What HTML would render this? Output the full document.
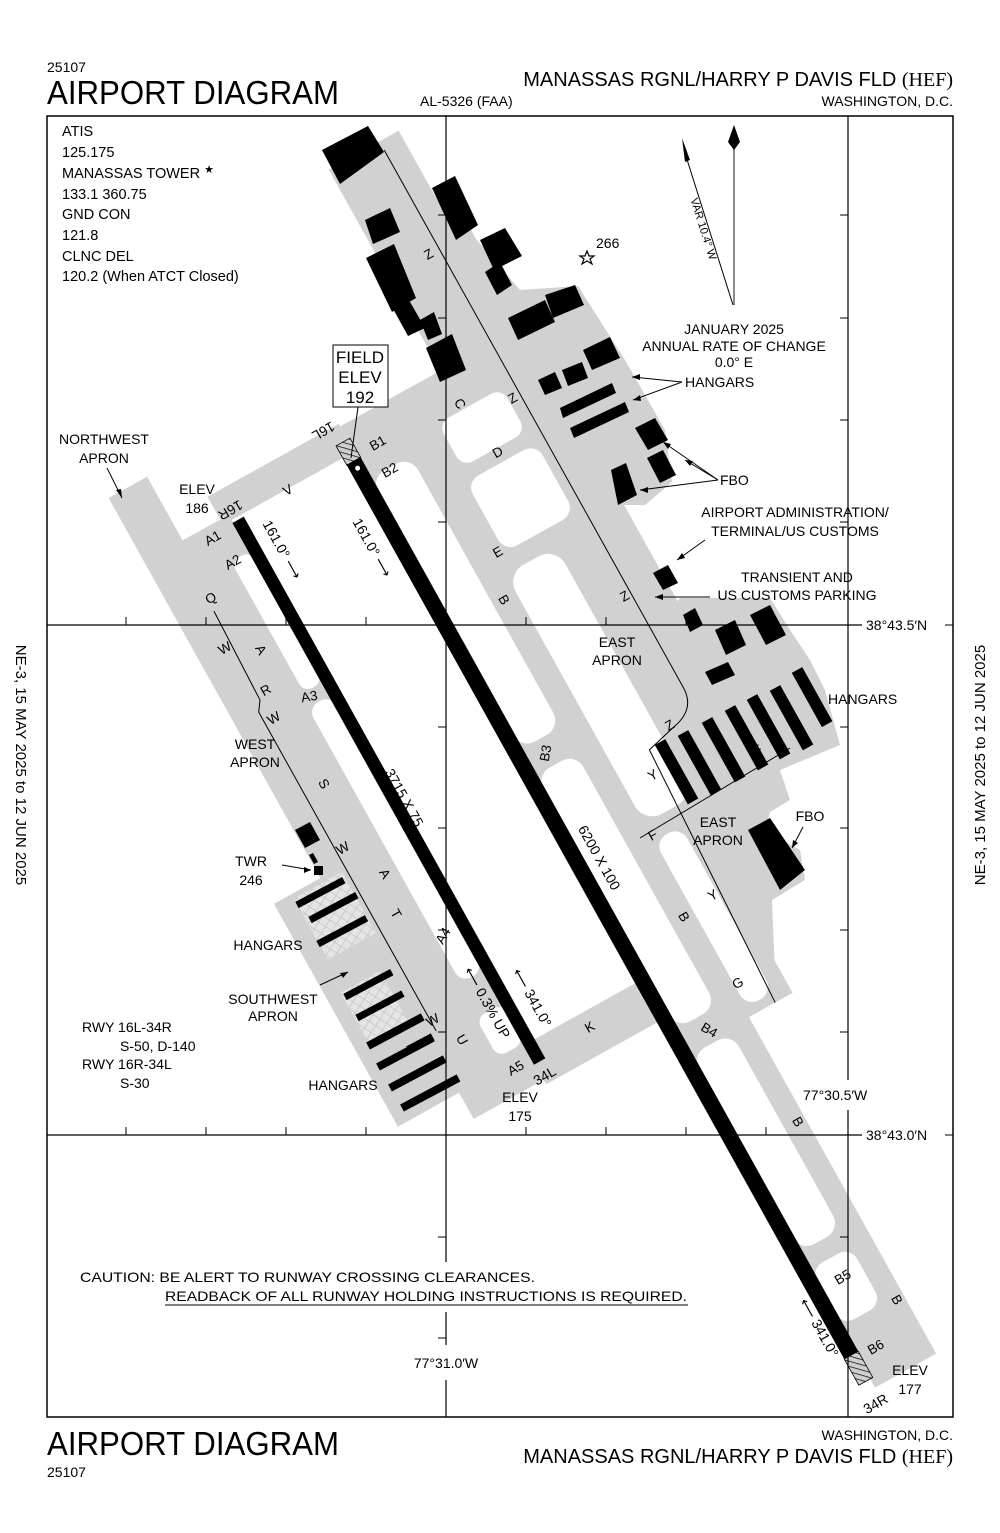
<!DOCTYPE html>
<html><head><meta charset="utf-8"><style>
html,body{margin:0;padding:0;background:#fff;}
svg{display:block;}
text{font-family:"Liberation Sans",sans-serif;fill:#000;}
</style></head><body>
<svg width="1000" height="1533" viewBox="0 0 1000 1533" xmlns="http://www.w3.org/2000/svg">
<defs>
<pattern id="h" width="5" height="5" patternUnits="userSpaceOnUse" patternTransform="rotate(45)">
<rect width="5" height="5" fill="#cfcfcf"/><line x1="0" y1="0" x2="0" y2="5" stroke="#000" stroke-width="1.4"/></pattern>
<pattern id="g" width="8" height="8" patternUnits="userSpaceOnUse" patternTransform="rotate(-28)">
<rect width="8" height="8" fill="#e4e4e4"/><path d="M0 0H8M0 0V8" stroke="#c4c4c4" stroke-width="1.5" fill="none"/></pattern>
</defs>

<text x="47" y="72" font-size="14">25107</text>
<text x="47" y="104" font-size="33" textLength="292" lengthAdjust="spacingAndGlyphs">AIRPORT DIAGRAM</text>
<text x="953" y="86" font-size="20" text-anchor="end"><tspan>MANASSAS RGNL/HARRY P DAVIS FLD </tspan><tspan font-family="Liberation Serif,serif">(HEF)</tspan></text>
<text x="420" y="106" font-size="14">AL-5326 (FAA)</text>
<text x="953" y="106" font-size="14" text-anchor="end">WASHINGTON, D.C.</text>

<text x="953" y="1440" font-size="14" text-anchor="end">WASHINGTON, D.C.</text>
<text x="953" y="1463" font-size="20" text-anchor="end"><tspan>MANASSAS RGNL/HARRY P DAVIS FLD </tspan><tspan font-family="Liberation Serif,serif">(HEF)</tspan></text>
<text x="47" y="1455" font-size="33" textLength="292" lengthAdjust="spacingAndGlyphs">AIRPORT DIAGRAM</text>
<text x="47" y="1477" font-size="14">25107</text>

<text transform="translate(16,765) rotate(90)" font-size="15" text-anchor="middle">NE-3,  15 MAY 2025  to  12 JUN 2025</text>
<text transform="translate(985,765) rotate(-90)" font-size="15" text-anchor="middle">NE-3,  15 MAY 2025  to  12 JUN 2025</text>

<g fill="#d1d1d1">
<polygon points="470,232 520,290 578,286 625,360 665,430 672,482 645,505 600,505 560,420 470,245"/>
<polygon points="680,598 770,598 790,630 810,660 825,690 840,745 780,770 790,800 770,812 765,830 800,850 805,880 772,900 775,975 745,985 700,900 650,830 640,760 630,740 640,650"/>
</g>
<g transform="translate(343,442) rotate(60.9)">
<g fill="#d1d1d1">
<rect x="-245" y="-200" width="725" height="80"/>
<rect x="-150" y="-215" width="630" height="20"/>
<rect x="-15" y="-125" width="715" height="120"/>
<rect x="690" y="-75" width="395" height="70"/>
<rect x="-18" y="-5" width="32" height="150"/>
<rect x="-65" y="188" width="630" height="44"/>
<rect x="8" y="135" width="557" height="55"/>
<rect x="560" y="130" width="95" height="85"/>
<rect x="615" y="-5" width="45" height="140"/>
<rect x="370" y="205" width="255" height="80"/>
</g>
<g fill="#fff">
<rect x="30" y="-165" width="50" height="73" rx="12"/>
<rect x="95" y="-168" width="80" height="80" rx="14"/>
<rect x="195" y="-135" width="285" height="57" rx="20"/>
<rect x="500" y="-108" width="190" height="30" rx="14"/>
<rect x="45" y="-52" width="310" height="46" rx="16"/>
<rect x="385" y="-52" width="290" height="46" rx="16"/>
<rect x="705" y="-52" width="225" height="46" rx="16"/>
<rect x="950" y="-52" width="65" height="46" rx="14"/>
<rect x="50" y="134" width="150" height="22" rx="10"/>
<rect x="215" y="134" width="315" height="26" rx="12"/>
<rect x="568" y="134" width="45" height="30" rx="10"/>
</g>
<rect x="375" y="210" width="70" height="55" fill="url(#g)"/>
<rect x="480" y="225" width="60" height="45" fill="url(#g)"/>
<path d="M-235,-178 L380,-178 Q405,-178 410,-150 L418,-118 L700,-105" fill="none" stroke="#000" stroke-width="1"/>
<path d="M85,195 L185,198 L195,205 L560,205" fill="none" stroke="#000" stroke-width="1"/>
<rect x="0" y="-8" width="22" height="16" fill="url(#h)" stroke="#000" stroke-width="0.8"/>
<rect x="22" y="-8" width="1023" height="16" fill="#000"/>
<rect x="1045" y="-8" width="30" height="16" fill="url(#h)" stroke="#000" stroke-width="0.8"/>
<circle cx="30" cy="0" r="2.5" fill="#fff"/>
<rect x="17" y="123" width="620" height="13" fill="#000"/>
</g>
<path d="M640,838 L790,748" stroke="#000" stroke-width="1" fill="none"/>

<g fill="#000">
<polygon points="322,150 368,126 384,152 340,184"/>
<polygon points="432,188 455,176 478,225 456,240"/>
<polygon points="365,220 390,208 400,232 373,244"/>
<polygon points="366,258 394,244 416,298 392,312"/>
<polygon points="386,296 402,288 425,328 408,336"/>
<polygon points="420,320 434,312 442,334 428,340"/>
<polygon points="426,348 452,334 466,370 440,382"/>
<polygon points="480,240 505,228 522,256 494,270"/>
<polygon points="485,272 500,262 512,285 497,295"/>
<polygon points="508,318 545,300 555,322 518,340"/>
<polygon points="545,295 575,285 584,305 553,318"/>
<polygon points="538,380 555,372 562,388 545,395"/>
<polygon points="562,370 582,362 588,378 568,386"/>
<polygon points="583,350 610,337 620,358 592,370"/>
<polygon points="560,408 612,383 616,393 563,418"/>
<polygon points="570,428 625,402 629,412 574,438"/>
<polygon points="635,428 655,418 668,440 648,450"/>
<polygon points="647,458 663,450 676,475 660,483"/>
<polygon points="611,470 626,463 637,495 618,505"/>
<polygon points="653,573 668,565 678,583 663,590"/>
<polygon points="683,615 695,608 703,625 690,632"/>
<polygon points="715,630 735,620 746,645 726,655"/>
<polygon points="750,615 770,605 786,635 766,645"/>
<polygon points="705,672 728,662 735,675 712,685"/>
<polygon points="748,830 770,818 805,870 780,890"/>
<polygon points="295,830 310,822 320,840 305,848"/>
<rect x="314" y="866" width="9" height="9"/>
<polygon points="309,855 313,853 318,862 314,864"/>
</g>
<g fill="#000">
<rect x="0" y="-6" width="68" height="12" transform="translate(660,742) rotate(60.9)"/>
<rect x="0" y="-6" width="68" height="12" transform="translate(683,733) rotate(60.9)"/>
<rect x="0" y="-6" width="68" height="12" transform="translate(707,720) rotate(60.9)"/>
<rect x="0" y="-6" width="68" height="12" transform="translate(730,708) rotate(60.9)"/>
<rect x="0" y="-6" width="68" height="12" transform="translate(752,697) rotate(60.9)"/>
<rect x="0" y="-6" width="68" height="12" transform="translate(775,688) rotate(60.9)"/>
<rect x="0" y="-6" width="62" height="12" transform="translate(797,670) rotate(60.9)"/>
<rect x="0" y="-3.5" width="53" height="7" transform="translate(297,905) rotate(-28)"/>
<rect x="0" y="-3.5" width="53" height="7" transform="translate(310,920) rotate(-28)"/>
<rect x="0" y="-3.5" width="55" height="7" transform="translate(318,944) rotate(-28)"/>
<rect x="0" y="-3.5" width="53" height="7" transform="translate(345,997) rotate(-28)"/>
<rect x="0" y="-3.5" width="52" height="7" transform="translate(357,1018) rotate(-28)"/>
<rect x="0" y="-4" width="62" height="8" transform="translate(368,1046) rotate(-28)"/>
<rect x="0" y="-4" width="28" height="8" transform="translate(408,1050) rotate(-28)"/>
<rect x="0" y="-4" width="62" height="8" transform="translate(378,1067) rotate(-28)"/>
<rect x="0" y="-4" width="62" height="8" transform="translate(390,1088) rotate(-28)"/>
<rect x="0" y="-4" width="64" height="8" transform="translate(402,1108) rotate(-28)"/>
</g>

<g stroke="#000" fill="none">
<rect x="47" y="116" width="906" height="1301" stroke-width="1.5"/>
<path d="M446,116V1262M446,1312V1345M446,1380V1417" stroke-width="1.2"/>
<path d="M848,116V1080M848,1110V1417" stroke-width="1.2"/>
<path d="M47,625H862M47,1135H862" stroke-width="1.2"/>
<path d="M126,625v-8M206,625v-8M286,625v-8M366,625v-8M526,625v-8M606,625v-8M686,625v-8M766,625v-8
M126,1135v-8M206,1135v-8M286,1135v-8M366,1135v-8M526,1135v-8M606,1135v-8M686,1135v-8M766,1135v-8
M446,215h-8M446,318h-8M446,420h-8M446,522h-8M446,727h-8M446,828h-8M446,930h-8M446,1032h-8M446,1237h-8M446,1338h-8
M848,215h-8M848,318h-8M848,420h-8M848,522h-8M848,727h-8M848,828h-8M848,930h-8M848,1032h-8M848,1237h-8M848,1338h-8" stroke-width="1"/>
</g>
<path d="M953,625h-8M953,1135h-8" stroke="#000"/>

<line x1="734" y1="305" x2="734" y2="140" stroke="#666" stroke-width="1.5"/>
<polygon points="734,125 740,142 734,150 728,142" fill="#000"/>
<line x1="733" y1="305" x2="684" y2="150" stroke="#000" stroke-width="1"/>
<polygon points="682,138 690,160 685,162" fill="#000"/>
<text transform="translate(700,230) rotate(72.5)" font-size="11" text-anchor="middle">VAR 10.4° W</text>

<polygon points="587,251 589,256 594,256 590,259 592,264 587,261 582,264 584,259 580,256 585,256" fill="#fff" stroke="#000" stroke-width="1.2"/>
<text x="596" y="248" font-size="14">266</text>

<g font-size="14.5">
<text x="62" y="136">ATIS</text>
<text x="62" y="157">125.175</text>
<text x="62" y="178">MANASSAS TOWER <tspan font-size="11" dy="-5">★</tspan></text>
<text x="62" y="199">133.1  360.75</text>
<text x="62" y="219">GND CON</text>
<text x="62" y="240">121.8</text>
<text x="62" y="261">CLNC DEL</text>
<text x="62" y="281">120.2 (When ATCT Closed)</text>
</g>

<rect x="333" y="345" width="55" height="62" fill="#fff" stroke="#000" stroke-width="1"/>
<g font-size="17" text-anchor="middle">
<text x="360" y="363">FIELD</text><text x="360" y="383">ELEV</text><text x="360" y="403">192</text>
</g>
<line x1="358" y1="407" x2="351" y2="458" stroke="#000" stroke-width="1"/>

<g font-size="14" text-anchor="middle">
<text x="104" y="444">NORTHWEST</text><text x="104" y="463">APRON</text>
<text x="197" y="494">ELEV</text><text x="197" y="513">186</text>
<text x="255" y="749">WEST</text><text x="255" y="767">APRON</text>
<text x="251" y="866">TWR</text><text x="251" y="885">246</text>
<text x="268" y="950">HANGARS</text>
<text x="273" y="1004">SOUTHWEST</text><text x="273" y="1021">APRON</text>
<text x="343" y="1090">HANGARS</text>
<text x="520" y="1102">ELEV</text><text x="520" y="1121">175</text>
<text x="617" y="647">EAST</text><text x="617" y="665">APRON</text>
<text x="718" y="827">EAST</text><text x="718" y="845">APRON</text>
<text x="810" y="821">FBO</text>
<text x="910" y="1375">ELEV</text><text x="910" y="1394">177</text>
<text x="734" y="334">JANUARY 2025</text>
<text x="734" y="351">ANNUAL RATE OF CHANGE</text>
<text x="734" y="367">0.0° E</text>
<text x="795" y="517">AIRPORT ADMINISTRATION/</text>
<text x="795" y="536">TERMINAL/US CUSTOMS</text>
<text x="797" y="582">TRANSIENT AND</text>
<text x="797" y="600">US CUSTOMS PARKING</text>
<text x="446" y="1368">77°31.0′W</text>
</g>
<g font-size="14">
<text x="685" y="387">HANGARS</text>
<text x="720" y="485">FBO</text>
<text x="828" y="704">HANGARS</text>
<text x="803" y="1100">77°30.5′W</text>
<text x="866" y="630">38°43.5′N</text>
<text x="866" y="1140">38°43.0′N</text>
<text x="82" y="1032">RWY 16L-34R</text>
<text x="120" y="1051">S-50, D-140</text>
<text x="82" y="1069">RWY 16R-34L</text>
<text x="120" y="1088">S-30</text>
<text x="80" y="1282" textLength="455" lengthAdjust="spacingAndGlyphs">CAUTION: BE ALERT TO RUNWAY CROSSING CLEARANCES.</text>
<text x="165" y="1301" textLength="522" lengthAdjust="spacingAndGlyphs">READBACK OF ALL RUNWAY HOLDING INSTRUCTIONS IS REQUIRED.</text>
</g>
<line x1="165" y1="1305" x2="688" y2="1305" stroke="#000" stroke-width="1"/>

<g stroke="#000" stroke-width="1" fill="none">
<path d="M107,468 L122,498"/>
<path d="M282,865 L311,870"/>
<path d="M320,985 L348,972"/>
<path d="M682,382 L632,377 M682,382 L633,400"/>
<path d="M718,480 L663,442 M718,480 L685,460 M718,480 L640,490"/>
<path d="M705,540 L677,560"/>
<path d="M710,597 L655,597"/>
<path d="M803,827 L792,848"/>
</g>
<g fill="#000">
<polygon points="122,498 116,490 121,489"/>
<polygon points="311,870 304,867 304,873"/>
<polygon points="348,972 340,973 343,978"/>
<polygon points="632,377 640,374 640,380"/>
<polygon points="633,400 640,395 641,401"/>
<polygon points="663,442 671,444 668,449"/>
<polygon points="685,460 693,461 690,466"/>
<polygon points="640,490 648,487 648,493"/>
<polygon points="677,560 682,553 685,558"/>
<polygon points="655,597 663,594 663,600"/>
<polygon points="792,848 793,840 798,843"/>
</g>

<g font-size="14" text-anchor="middle">
<text transform="translate(278,552) rotate(60.9)">161.0° ⟶</text>
<text transform="translate(368,550) rotate(60.9)">161.0° ⟶</text>
<text transform="translate(400,800) rotate(60.9)">3715 X 75</text>
<text transform="translate(595,860) rotate(60.9)">6200 X 100</text>
<text transform="translate(528,1000) rotate(60.9)">⟵ 341.0°</text>
<text transform="translate(483,1005) rotate(60.9)">⟵ 0.3% UP</text>
<text transform="translate(815,1330) rotate(60.9)">⟵ 341.0°</text>
<text transform="translate(228,506) rotate(150)">16R</text>
<text transform="translate(321,427) rotate(150)">16L</text>
<text transform="translate(547,1080) rotate(-30)">34L</text>
<text transform="translate(878,1408) rotate(-30)">34R</text>
</g>

<g font-size="13.5" text-anchor="middle">
<text transform="translate(215,542) rotate(-30)">A1</text>
<text transform="translate(235,566) rotate(-30)">A2</text>
<text transform="translate(213,602) rotate(-30)">Q</text>
<text transform="translate(227,652) rotate(-30)">W</text>
<text transform="translate(257,652) rotate(60)">A</text>
<text transform="translate(268,694) rotate(-30)">R</text>
<text transform="translate(276,722) rotate(-30)">W</text>
<text transform="translate(310,701) rotate(-10)">A3</text>
<text transform="translate(320,786) rotate(60)">S</text>
<text transform="translate(345,852) rotate(-30)">W</text>
<text transform="translate(381,876) rotate(60)">A</text>
<text transform="translate(392,916) rotate(60)">T</text>
<text transform="translate(447,938) rotate(-60)">A4</text>
<text transform="translate(435,1024) rotate(-30)">W</text>
<text transform="translate(458,1042) rotate(60)">U</text>
<text transform="translate(518,1072) rotate(-30)">A5</text>
<text transform="translate(290,494) rotate(-30)">V</text>
<text transform="translate(380,447) rotate(-30)">B1</text>
<text transform="translate(392,474) rotate(-30)">B2</text>
<text transform="translate(456,406) rotate(60)">C</text>
<text transform="translate(431,258) rotate(-30)">Z</text>
<text transform="translate(515,402) rotate(-30)">Z</text>
<text transform="translate(627,600) rotate(-30)">Z</text>
<text transform="translate(672,729) rotate(-30)">Z</text>
<text transform="translate(500,456) rotate(-30)">D</text>
<text transform="translate(500,556) rotate(-30)">E</text>
<text transform="translate(500,602) rotate(60)">B</text>
<text transform="translate(550,754) rotate(-80)">B3</text>
<text transform="translate(655,779) rotate(-30)">Y</text>
<text transform="translate(760,754) rotate(-30)">F</text>
<text transform="translate(655,839) rotate(-30)">F</text>
<text transform="translate(680,919) rotate(60)">B</text>
<text transform="translate(715,899) rotate(-30)">Y</text>
<text transform="translate(740,987) rotate(-30)">G</text>
<text transform="translate(592,1031) rotate(-30)">K</text>
<text transform="translate(707,1034) rotate(30)">B4</text>
<text transform="translate(794,1124) rotate(60)">B</text>
<text transform="translate(845,1281) rotate(-30)">B5</text>
<text transform="translate(893,1302) rotate(60)">B</text>
<text transform="translate(878,1351) rotate(-30)">B6</text>
</g>
</svg>
</body></html>
